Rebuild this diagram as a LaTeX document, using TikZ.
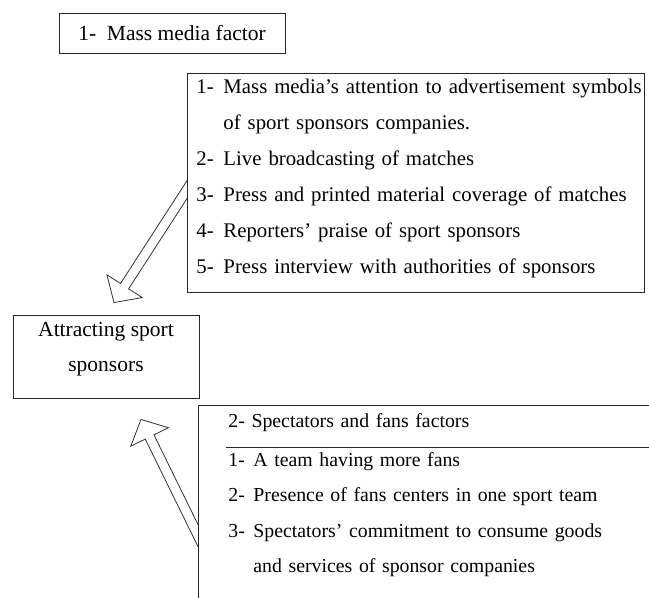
\documentclass[tikz,border=0pt]{standalone}
\usepackage{fontspec}
\setmainfont{Liberation Serif}
\newfontfamily\listfont{Liberation Serif}[WordSpace=0.7]
\usetikzlibrary{positioning,calc,backgrounds}

\newcommand{\itemno}[2][27pt]{\makebox[#1][l]{#2}}
\newcommand{\hollowarrow}[2]{%
  \draw[hollow] let \p1=($(#2)-(#1)$), \n1={atan2(\y1,\x1)}, \n2={veclen(\x1,\y1)} in
    [shift={(#1)}, rotate=\n1]
    (0,-4.85) -- (\n2-19.5,-4.85) -- (\n2-19.5,-21) -- (\n2,0)
    -- (\n2-19.5,21) -- (\n2-19.5,4.85) -- (0,4.85) -- cycle;}

\begin{document}
\begin{tikzpicture}[
          x=1pt, y=-1pt, line width=0.9pt, draw=black!85,
          box/.style={draw=black!85, fill=white, inner sep=0pt, align=center,
                      font=\fontsize{21.5}{35}\selectfont},
          listbox/.style={draw=black!85, fill=white, align=left,
                          inner xsep=9pt, inner ysep=5.7pt},
          hollow/.style={draw=black!80, line width=0.8pt, line join=miter}
        ]
        \useasboundingbox (0,0) rectangle (649,598);
        \clip (0,0) rectangle (649,598);

        \node[box, minimum width=226pt, minimum height=40pt] (media) at (172,33)
              {1-\ \ Mass media factor};

        \node[listbox, anchor=north west, text width=439pt,
              font=\listfont\fontsize{20.8}{36}\selectfont] (list) at (187,73) {%
          \mbox{\itemno{1-}Mass media’s attention to advertisement symbols}\\
          \hspace*{27pt}of sport sponsors companies.\\
          \itemno{2-}Live broadcasting of matches\\
          \itemno{3-}Press and printed material coverage of matches\\
          \itemno{4-}Reporters’ praise of sport sponsors\\
          \itemno{5-}Press interview with authorities of sponsors\rule[-13.3pt]{0pt}{1pt}};

        \node[box, minimum width=186pt, minimum height=83pt] (attract) at (106,356.5)
              {Attracting sport\\sponsors\rule[-20pt]{0pt}{1pt}};

        \node[listbox, anchor=north west, text width=480pt, inner xsep=30pt,
              inner ysep=8pt, font=\listfont\fontsize{19.8}{35.5}\selectfont] (fans) at (198,405) {%
          2- Spectators and fans factors\\[3.5pt]
          \itemno[25pt]{1-}A team having more fans\\
          \itemno[25pt]{2-}Presence of fans centers in one sport team\\
          \itemno[25pt]{3-}Spectators’ commitment to consume goods\\
          \hspace*{25pt}and services of sponsor companies\rule[-40pt]{0pt}{1pt}};

        % divider under the heading
        \draw ($(fans.north west)+(28,42)$) -- ++(440,0);

        % hollow arrows into the goal box
        \coordinate (mediatail) at ($(list.west)+(12,-12)$);
        \coordinate (mediatip) at ($(attract.north)+(8,-12)$);
        \coordinate (fanstail) at ($(fans.north west)+(12,155)$);
        \coordinate (fanstip) at ($(attract.south)+(35,21)$);
        \begin{pgfonlayer}{background}
          \hollowarrow{mediatail}{mediatip}
          \hollowarrow{fanstail}{fanstip}
        \end{pgfonlayer}
      \end{tikzpicture}
\end{document}
